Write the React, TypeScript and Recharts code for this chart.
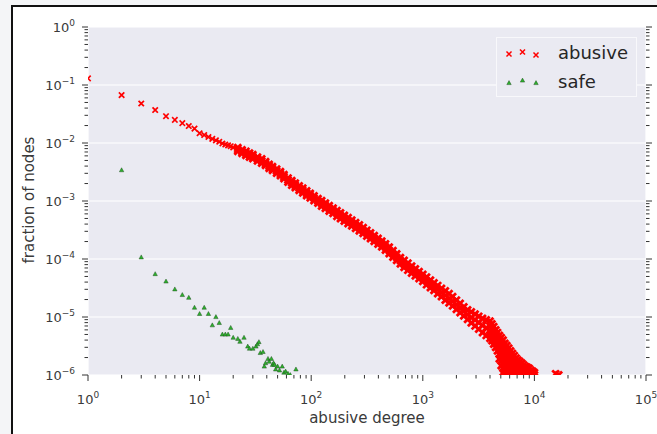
import { ScatterChart, Scatter, XAxis, YAxis, CartesianGrid, Legend } from "recharts";

// head of the abusive curve, one point per degree
const abusiveHeadDegree = [1, 2, 3, 4, 5, 6, 7, 8, 9, 10, 11, 12, 13, 14, 15, 16, 17, 18, 19, 20];
const abusiveHeadFraction = [
  0.13, 0.067, 0.048, 0.037, 0.029, 0.025, 0.022, 0.0196, 0.0177, 0.0147,
  0.0137, 0.0127, 0.0118, 0.0111, 0.0105, 0.0098, 0.0094, 0.0091, 0.0088, 0.0084,
];

// dense band: top, middle and bottom of the cloud at each degree
const abusiveDegree = [
  22, 24, 26, 28, 30, 33, 36, 39, 42, 45, 49, 53, 57, 62, 67, 72, 78, 84, 91, 98,
  106, 115, 124, 134, 145, 157, 170, 183, 198, 214, 231, 250, 270, 292, 315, 340, 367, 397, 429, 463,
  500, 540, 583, 630, 680, 735, 794, 857, 926, 1000, 1080, 1170, 1260, 1360, 1470, 1590, 1720, 1850, 2000, 2160,
  2330, 2520, 2720, 2940, 3170, 3430, 3700,
];
const abusiveHigh = [
  8.3e-3, 7.6e-3, 7.2e-3, 6.7e-3, 6.3e-3, 5.7e-3, 5.3e-3, 4.75e-3, 4.27e-3, 3.91e-3,
  3.54e-3, 3.21e-3, 2.85e-3, 2.49e-3, 2.25e-3, 2.04e-3, 1.83e-3, 1.66e-3, 1.5e-3, 1.35e-3,
  1.22e-3, 1.1e-3, 1.01e-3, 9.2e-4, 8.3e-4, 7.5e-4, 6.85e-4, 6.25e-4, 5.67e-4, 5.15e-4,
  4.68e-4, 4.25e-4, 3.86e-4, 3.47e-4, 3.13e-4, 2.81e-4, 2.53e-4, 2.27e-4, 2.04e-4, 1.83e-4,
  1.6e-4, 1.39e-4, 1.22e-4, 1.06e-4, 9.45e-5, 8.45e-5, 7.55e-5, 6.77e-5, 6.05e-5, 5.42e-5,
  4.88e-5, 4.33e-5, 3.87e-5, 3.49e-5, 3.1e-5, 2.83e-5, 2.52e-5, 2.24e-5, 1.96e-5, 1.72e-5,
  1.5e-5, 1.33e-5, 1.22e-5, 1.12e-5, 1.03e-5, 9.5e-6, 8.9e-6,
];
const abusiveMid = [
  7.7e-3, 7.1e-3, 6.6e-3, 6.2e-3, 5.8e-3, 5.3e-3, 4.9e-3, 4.4e-3, 3.96e-3, 3.62e-3,
  3.27e-3, 2.96e-3, 2.63e-3, 2.3e-3, 2.05e-3, 1.86e-3, 1.67e-3, 1.52e-3, 1.36e-3, 1.24e-3,
  1.12e-3, 1.0e-3, 9.1e-4, 8.3e-4, 7.5e-4, 6.8e-4, 6.1e-4, 5.6e-4, 5.05e-4, 4.6e-4,
  4.2e-4, 3.8e-4, 3.44e-4, 3.09e-4, 2.79e-4, 2.51e-4, 2.26e-4, 2.03e-4, 1.82e-4, 1.61e-4,
  1.41e-4, 1.23e-4, 1.07e-4, 9.4e-5, 8.2e-5, 7.4e-5, 6.6e-5, 5.9e-5, 5.3e-5, 4.7e-5,
  4.2e-5, 3.7e-5, 3.3e-5, 3.0e-5, 2.64e-5, 2.35e-5, 2.1e-5, 1.86e-5, 1.63e-5, 1.43e-5,
  1.26e-5, 1.1e-5, 9.8e-6, 8.9e-6, 8.0e-6, 7.2e-6, 6.5e-6,
];
const abusiveLow = [
  7.2e-3, 6.65e-3, 6.1e-3, 5.7e-3, 5.4e-3, 4.9e-3, 4.5e-3, 4.1e-3, 3.67e-3, 3.36e-3,
  3.01e-3, 2.73e-3, 2.43e-3, 2.12e-3, 1.87e-3, 1.7e-3, 1.53e-3, 1.38e-3, 1.24e-3, 1.13e-3,
  1.02e-3, 9.2e-4, 8.2e-4, 7.5e-4, 6.7e-4, 6.1e-4, 5.44e-4, 4.96e-4, 4.5e-4, 4.09e-4,
  3.72e-4, 3.37e-4, 3.07e-4, 2.76e-4, 2.48e-4, 2.24e-4, 2.01e-4, 1.81e-4, 1.62e-4, 1.42e-4,
  1.24e-4, 1.08e-4, 9.5e-5, 8.25e-5, 7.2e-5, 6.4e-5, 5.7e-5, 5.1e-5, 4.6e-5, 4.1e-5,
  3.6e-5, 3.2e-5, 2.87e-5, 2.53e-5, 2.25e-5, 1.95e-5, 1.75e-5, 1.55e-5, 1.36e-5, 1.19e-5,
  1.05e-5, 9.1e-6, 7.9e-6, 7.0e-6, 6.2e-6, 5.4e-6, 4.8e-6,
];

// tail, where the cloud fans out down to a single node
const abusiveTail: [number, number[]][] = [
  [4000, [8.5e-6, 7.1e-6, 5.9e-6, 4.9e-6, 4.3e-6]],
  [4160, [7.6e-6, 6.3e-6, 5.2e-6, 4.4e-6, 3.9e-6]],
  [4320, [6.8e-6, 5.6e-6, 4.7e-6, 3.9e-6, 3.4e-6]],
  [4500, [6.0e-6, 5.0e-6, 4.2e-6, 3.5e-6, 3.0e-6]],
  [4670, [5.4e-6, 4.5e-6, 3.7e-6, 3.1e-6, 2.6e-6]],
  [4850, [4.8e-6, 4.0e-6, 3.3e-6, 2.75e-6, 2.3e-6, 1.9e-6]],
  [5040, [4.4e-6, 3.6e-6, 3.0e-6, 2.5e-6, 2.1e-6, 1.75e-6, 1.45e-6]],
  [5240, [4.0e-6, 3.3e-6, 2.75e-6, 2.3e-6, 1.9e-6, 1.6e-6, 1.3e-6, 1.1e-6]],
  [5440, [3.5e-6, 2.9e-6, 2.4e-6, 2.0e-6, 1.7e-6, 1.4e-6, 1.2e-6, 1.0e-6]],
  [5660, [3.2e-6, 2.6e-6, 2.2e-6, 1.8e-6, 1.5e-6, 1.25e-6, 1.05e-6]],
  [5880, [2.9e-6, 2.4e-6, 2.0e-6, 1.65e-6, 1.4e-6, 1.15e-6, 1.0e-6]],
  [6110, [2.6e-6, 2.15e-6, 1.8e-6, 1.5e-6, 1.25e-6, 1.05e-6]],
  [6350, [2.35e-6, 1.95e-6, 1.6e-6, 1.35e-6, 1.1e-6, 1.0e-6]],
  [6600, [2.15e-6, 1.8e-6, 1.5e-6, 1.25e-6, 1.05e-6]],
  [6860, [1.95e-6, 1.6e-6, 1.35e-6, 1.1e-6, 1.0e-6]],
  [7120, [1.8e-6, 1.5e-6, 1.25e-6, 1.05e-6]],
  [7410, [1.7e-6, 1.4e-6, 1.2e-6, 1.0e-6]],
  [7700, [1.6e-6, 1.3e-6, 1.1e-6, 1.0e-6]],
  [8000, [1.5e-6, 1.25e-6, 1.05e-6]],
  [8320, [1.4e-6, 1.2e-6, 1.0e-6]],
  [8640, [1.35e-6, 1.15e-6, 1.0e-6]],
  [8980, [1.3e-6, 1.1e-6, 1.0e-6]],
  [9330, [1.2e-6, 1.05e-6]],
  [9660, [1.15e-6, 1.0e-6]],
  [10000, [1.1e-6, 1.0e-6]],
  [15500, [1.05e-6]],
  [16500, [1.0e-6]],
];

const safeDegree = [
  2, 3, 4, 5, 6, 7, 8, 9, 10, 11, 12, 13, 14, 15, 16, 17, 18, 19, 20, 22, 23, 25, 27, 28,
  30, 32, 33, 34, 35, 37, 38, 39, 41, 42, 44, 45, 46, 47, 48, 50, 52, 55, 57, 59, 62, 65, 73,
];
const safeFraction = [
  3.4e-3, 1.07e-4, 5.5e-5, 4.1e-5, 3.0e-5, 2.4e-5, 2.15e-5, 1.45e-5, 1.13e-5, 1.45e-5, 1.13e-5, 7.2e-6,
  1.0e-5, 7.9e-6, 5.0e-6, 5.0e-6, 5.0e-6, 6.5e-6, 4.4e-6, 4.2e-6, 3.75e-6, 4.4e-6, 3.1e-6, 2.85e-6,
  2.85e-6, 3.1e-6, 3.4e-6, 3.7e-6, 2.4e-6, 2.5e-6, 1.4e-6, 1.6e-6, 1.9e-6, 1.7e-6, 1.9e-6, 1.5e-6,
  1.6e-6, 1.5e-6, 1.25e-6, 1.4e-6, 1.2e-6, 1.4e-6, 1.1e-6, 1.15e-6, 1.05e-6, 1.0e-6, 1.25e-6,
];

const xMajorTicks = [1, 10, 100, 1000, 10000, 100000];
const yMajorTicks = [1e-6, 1e-5, 1e-4, 1e-3, 1e-2, 1e-1, 1];

const withMinor = (majors: number[]) =>
  majors.flatMap((m, i) => (i === majors.length - 1 ? [m] : [1, 2, 3, 4, 5, 6, 7, 8, 9].map((f) => f * m)));
const xAllTicks = withMinor(xMajorTicks);
const yAllTicks = withMinor(yMajorTicks);

const abusivePoints = [
  ...abusiveHeadDegree.map((k, i) => ({ x: k, y: abusiveHeadFraction[i] })),
  ...abusiveDegree.flatMap((k, i) => [
    { x: k, y: abusiveHigh[i] },
    { x: k, y: abusiveMid[i] },
    { x: k, y: abusiveLow[i] },
  ]),
  ...abusiveTail.flatMap(([k, fs]) => fs.map((f) => ({ x: k, y: f }))),
];
const safePoints = safeDegree.map((k, i) => ({ x: k, y: safeFraction[i] }));

const FONT = "'DejaVu Sans', Verdana, sans-serif";
const TICK_COLOR = "#333";
const LABEL_COLOR = "#3a3a3a";

const isMajor = (v: number) => Math.abs(Math.log10(v) - Math.round(Math.log10(v))) < 1e-9;
const expText = (v: number) => {
  const n = Math.round(Math.log10(v));
  return n < 0 ? `\u2212${-n}` : String(n);
};

function PowerLabel({ x, y, v, anchor }: { x: number; y: number; v: number; anchor: string }) {
  return (
    <text x={x} y={y} textAnchor={anchor} fontFamily={FONT} fontSize={13} fill={LABEL_COLOR}>
      10
      <tspan dy={-6} fontSize={9}>
        {expText(v)}
      </tspan>
    </text>
  );
}

function BottomTick(props: any) {
  const { x, y, payload } = props;
  const major = isMajor(payload.value);
  return (
    <g>
      <line x1={x} x2={x} y1={y} y2={y + (major ? 6 : 3.5)} stroke={TICK_COLOR} strokeWidth={1} />
      {major && <PowerLabel x={x} y={y + 29} v={payload.value} anchor="middle" />}
    </g>
  );
}

function TopTick(props: any) {
  const { x, y, payload } = props;
  const major = isMajor(payload.value);
  return <line x1={x} x2={x} y1={y} y2={y - (major ? 6 : 3.5)} stroke={TICK_COLOR} strokeWidth={1} />;
}

function LeftTick(props: any) {
  const { x, y, payload } = props;
  const major = isMajor(payload.value);
  return (
    <g>
      <line x1={x} x2={x - (major ? 6 : 3.5)} y1={y} y2={y} stroke={TICK_COLOR} strokeWidth={1} />
      {major && <PowerLabel x={x - 13} y={y + 5} v={payload.value} anchor="end" />}
    </g>
  );
}

function RightTick(props: any) {
  const { x, y, payload } = props;
  const major = isMajor(payload.value);
  return <line x1={x} x2={x + (major ? 6 : 3.5)} y1={y} y2={y} stroke={TICK_COLOR} strokeWidth={1} />;
}

function XMark({ cx, cy, r = 2.3, w = 1.9 }: { cx: number; cy: number; r?: number; w?: number }) {
  return (
    <path
      d={`M${cx - r},${cy - r}L${cx + r},${cy + r}M${cx - r},${cy + r}L${cx + r},${cy - r}`}
      stroke="#ff0000"
      strokeWidth={w}
      strokeLinecap="square"
      fill="none"
    />
  );
}

// where the cloud is dense the crosses merge into a solid band
const renderAbusive = (p: any) =>
  p.payload && p.payload.x > 20 ? (
    <XMark cx={p.cx} cy={p.cy} r={2.4} w={2.8} />
  ) : (
    <XMark cx={p.cx} cy={p.cy} r={2.1} w={1.7} />
  );

function Tri({ cx, cy }: { cx: number; cy: number }) {
  return (
    <path
      d={`M${cx},${cy - 2.4}L${cx + 2.2},${cy + 1.6}L${cx - 2.2},${cy + 1.6}Z`}
      fill="#2db02d"
      stroke="#1d4a1d"
      strokeWidth={0.45}
    />
  );
}

const renderXTitle = ({ viewBox }: any) => (
  <text
    x={viewBox.x + viewBox.width / 2}
    y={viewBox.y + 48}
    textAnchor="middle"
    fontFamily={FONT}
    fontSize={15}
    fill={LABEL_COLOR}
  >
    abusive degree
  </text>
);

const renderYTitle = ({ viewBox }: any) => {
  const x = viewBox.x + 6;
  const y = viewBox.y + viewBox.height / 2 - 1;
  return (
    <text
      x={x}
      y={y}
      transform={`rotate(-90, ${x}, ${y})`}
      textAnchor="middle"
      fontFamily={FONT}
      fontSize={15}
      fill={LABEL_COLOR}
    >
      fraction of nodes
    </text>
  );
};

const legendMarkerOffsets: Record<string, number[]> = {
  abusive: [1, -1, 2],
  safe: [1, -1.5, 1],
};

const renderLegend = ({ payload }: any) => (
  <div
    style={{
      position: "relative",
      width: 141,
      height: 60,
      boxSizing: "border-box",
      border: "1px solid #f8f8fb",
      background: "#eaeaf2",
      fontFamily: FONT,
    }}
  >
    {(payload || []).map((entry: any, i: number) => {
      const name = entry.value as string;
      const offs = legendMarkerOffsets[name] || [0, 0, 0];
      return (
        <div key={name} style={{ position: "absolute", left: 0, top: 3 + i * 29, width: 141, height: 24 }}>
          <svg width={50} height={24} style={{ position: "absolute", left: 0, top: 0 }}>
            {[12, 25.5, 39].map((cx, j) =>
              name === "abusive" ? (
                <XMark key={j} cx={cx} cy={12 + offs[j]} r={2} w={1.5} />
              ) : (
                <Tri key={j} cx={cx} cy={12 + offs[j]} />
              )
            )}
          </svg>
          <span
            style={{
              position: "absolute",
              left: 61,
              top: 0,
              lineHeight: "24px",
              fontSize: 18,
              color: "#262626",
              whiteSpace: "nowrap",
            }}
          >
            {name}
          </span>
        </div>
      );
    })}
  </div>
);

export default function App() {
  return (
    <div
      style={{
        position: "absolute",
        left: 0,
        top: 0,
        width: 657,
        height: 434,
        overflow: "hidden",
        background: "#f4f5f7",
      }}
    >
      <div
        style={{
          position: "absolute",
          left: 11,
          top: 5,
          width: 700,
          height: 500,
          border: "2px solid #111",
          background: "#fff",
        }}
      />
      <div style={{ position: "absolute", left: 0, top: 0 }}>
        <ScatterChart width={657} height={434} margin={{ top: 19, right: 3, bottom: 24, left: 28 }}>
          <CartesianGrid xAxisId="grid" yAxisId="grid" stroke="#ffffff" strokeWidth={1.2} fill="#eaeaf2" fillOpacity={1} />
          <XAxis xAxisId="grid" type="number" scale="log" domain={[1, 100000]} ticks={xMajorTicks} hide allowDataOverflow />
          <YAxis yAxisId="grid" type="number" scale="log" domain={[1e-6, 1]} ticks={yMajorTicks} hide allowDataOverflow />
          <XAxis
            type="number"
            dataKey="x"
            scale="log"
            domain={[1, 100000]}
            ticks={xAllTicks}
            interval={0}
            allowDataOverflow
            axisLine={false}
            tickLine={false}
            tickSize={0}
            tickMargin={0}
            height={35}
            tick={(p: any) => <BottomTick {...p} />}
            label={renderXTitle}
          />
          <XAxis
            xAxisId="top"
            orientation="top"
            type="number"
            scale="log"
            domain={[1, 100000]}
            ticks={xAllTicks}
            interval={0}
            allowDataOverflow
            axisLine={false}
            tickLine={false}
            tickSize={0}
            tickMargin={0}
            height={8}
            tick={(p: any) => <TopTick {...p} />}
          />
          <YAxis
            type="number"
            dataKey="y"
            scale="log"
            domain={[1e-6, 1]}
            ticks={yAllTicks}
            interval={0}
            allowDataOverflow
            axisLine={false}
            tickLine={false}
            tickSize={0}
            tickMargin={0}
            width={60}
            tick={(p: any) => <LeftTick {...p} />}
            label={renderYTitle}
          />
          <YAxis
            yAxisId="right"
            orientation="right"
            type="number"
            scale="log"
            domain={[1e-6, 1]}
            ticks={yAllTicks}
            interval={0}
            allowDataOverflow
            axisLine={false}
            tickLine={false}
            tickSize={0}
            tickMargin={0}
            width={8}
            tick={(p: any) => <RightTick {...p} />}
          />
          <Legend
            layout="horizontal"
            verticalAlign="middle"
            align="center"
            content={renderLegend}
            wrapperStyle={{ left: 496, top: 37, width: 141, height: 60 }}
          />
          <Scatter name="abusive" data={abusivePoints} isAnimationActive={false} shape={renderAbusive} />
          <Scatter
            name="safe"
            data={safePoints}
            isAnimationActive={false}
            shape={(p: any) => <Tri cx={p.cx} cy={p.cy} />}
          />
        </ScatterChart>
      </div>
    </div>
  );
}
